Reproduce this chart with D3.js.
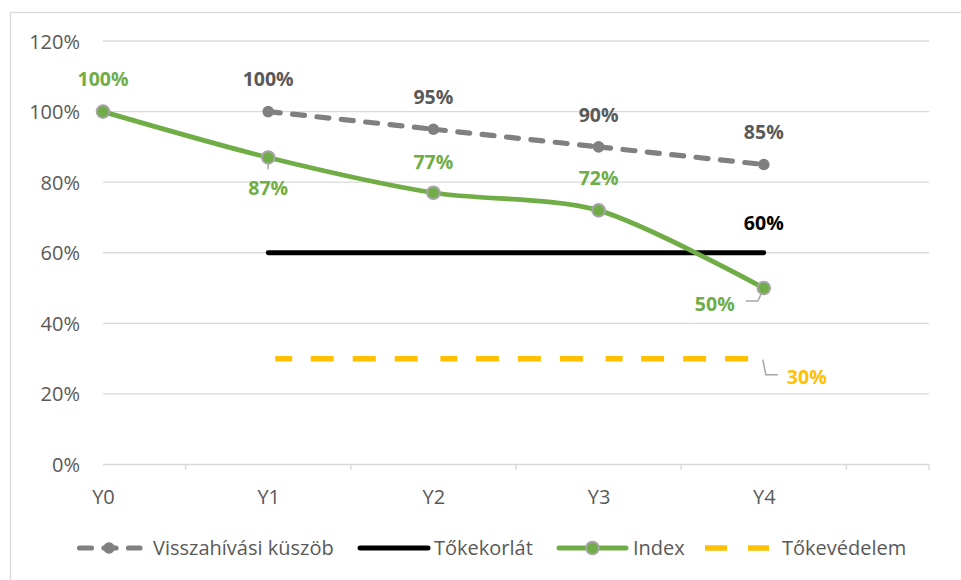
<!DOCTYPE html>
<html>
<head>
<meta charset="utf-8">
<script src="https://cdn.jsdelivr.net/npm/d3@7"></script>
<style>
  html, body { margin: 0; padding: 0; background: #fff; }
  svg { display: block; font-family: "Open Sans", sans-serif; }
</style>
</head>
<body>
<svg id="chart" width="961" height="580"></svg>
<script>
// ---- data ----
const categories = ["Y0", "Y1", "Y2", "Y3", "Y4", ""];
const recallThreshold = [null, 1.00, 0.95, 0.90, 0.85];   // Visszahívási küszöb
const capitalBarrier = [null, 0.60, 0.60, 0.60, 0.60];    // Tőkekorlát
const indexValues = [1.00, 0.87, 0.77, 0.72, 0.50];       // Index
const capitalProtection = [null, 0.30, 0.30, 0.30, 0.30]; // Tőkevédelem
const yTicks = [0, 0.2, 0.4, 0.6, 0.8, 1.0, 1.2];
const seriesNames = ["Visszahívási küszöb", "Tőkekorlát", "Index", "Tőkevédelem"];

// ---- styles ----
const FONT = "'Open Sans', sans-serif";
const C = {
  grid: "#d9d9d9", axisText: "#595959", gray: "#808080", grayLabel: "#595959",
  black: "#000000", green: "#70ad47", gold: "#ffc000", leader: "#a6a6a6", markerStroke: "#a5a5a5"
};

const svg = d3.select("#chart");
svg.append("rect").attr("x", 10.5).attr("y", 12.5).attr("width", 970).attr("height", 600)
  .attr("fill", "none").attr("stroke", "#d9d9d9").attr("stroke-width", 1.3);

const x = d3.scalePoint().domain(categories).range([103, 929]);
const y = d3.scaleLinear().domain([0, 1.2]).range([464.5, 41]);
const fmt = d3.format(".0%");

// gridlines
svg.append("g").selectAll("line").data(yTicks).join("line")
  .attr("x1", 103).attr("x2", 929)
  .attr("y1", d => y(d)).attr("y2", d => y(d))
  .attr("stroke", C.grid).attr("stroke-width", 1.4);

// y axis labels
const yAxis = d3.axisLeft(y).tickValues(yTicks).tickFormat(fmt).tickSize(0).tickPadding(0);
const gy = svg.append("g").attr("transform", "translate(80,0)").call(yAxis);
gy.select(".domain").remove();
gy.selectAll("text").attr("fill", C.axisText).attr("font-size", 20)
  .attr("font-family", FONT).attr("dy", "0.35em");

// x axis (ticks between categories)
const step = x.step();
const xTickPos = d3.range(1, categories.length).map(i => x(categories[i]) - step / 2).concat([x(categories[categories.length - 1])]);
svg.append("g").selectAll("line").data(xTickPos).join("line")
  .attr("x1", d => d).attr("x2", d => d).attr("y1", y(0)).attr("y2", y(0) + 5.5)
  .attr("stroke", C.grid).attr("stroke-width", 1.4);
const xAxis = d3.axisBottom(x).tickSize(0).tickPadding(0);
const gx = svg.append("g").attr("transform", `translate(0,${y(0)})`).call(xAxis);
gx.select(".domain").remove();
gx.selectAll("text").attr("fill", C.axisText).attr("font-size", 20)
  .attr("font-family", FONT).attr("y", 32).attr("dy", "0.35em");

// helpers
const pts = arr => arr.map((v, i) => v == null ? null : [x(categories[i]), y(v)]).filter(p => p);
function segments(arr) {
  const p = pts(arr), s = [];
  for (let i = 0; i < p.length - 1; i++) s.push([p[i], p[i + 1]]);
  return s;
}
const straight = d3.line();

// Tőkevédelem (gold dashed, restarts per segment)
svg.append("g").selectAll("path").data(segments(capitalProtection)).join("path")
  .attr("d", straight).attr("fill", "none").attr("stroke", C.gold).attr("stroke-width", 5.5)
  .attr("stroke-dasharray", "0,7,17,18.5,23,19,23,19,23,19,23,19,23,19");

// Tőkekorlát (black solid)
svg.append("path").attr("d", straight(pts(capitalBarrier))).attr("fill", "none")
  .attr("stroke", C.black).attr("stroke-width", 4.8).attr("stroke-linecap", "round");

// Visszahívási küszöb (gray dashed with markers)
svg.append("g").selectAll("path").data(segments(recallThreshold)).join("path")
  .attr("d", straight).attr("fill", "none").attr("stroke", C.gray).attr("stroke-width", 5.2)
  .attr("stroke-linecap", "round").attr("stroke-dasharray", "12,12.5");
svg.append("g").selectAll("circle").data(pts(recallThreshold)).join("circle")
  .attr("cx", d => d[0]).attr("cy", d => d[1]).attr("r", 5.8).attr("fill", C.gray);

// Index (smooth green with markers)
const smooth = d3.line().curve(d3.curveCardinal.tension(0.15));
svg.append("path").attr("d", smooth(pts(indexValues))).attr("fill", "none")
  .attr("stroke", C.green).attr("stroke-width", 4.8).attr("stroke-linecap", "round");

// leader lines
const pI1 = [x("Y1"), y(indexValues[1])];
const pI4 = [x("Y4"), y(indexValues[4])];
const pP4 = [x("Y4"), y(capitalProtection[4])];
const leaders = [
  [[pI1[0], pI1[1]], [pI1[0], pI1[1] + 12]],
  [[pI4[0], pI4[1]], [pI4[0] - 6, pI4[1] + 13], [pI4[0] - 18, pI4[1] + 13]],
  [[pP4[0] - 1, pP4[1] + 1], [pP4[0] + 2, pP4[1] + 16], [pP4[0] + 14, pP4[1] + 16]]
];
svg.append("g").selectAll("path").data(leaders).join("path")
  .attr("d", straight).attr("fill", "none").attr("stroke", C.leader).attr("stroke-width", 1.5);

svg.append("g").selectAll("circle").data(pts(indexValues)).join("circle")
  .attr("cx", d => d[0]).attr("cy", d => d[1]).attr("r", 6.3)
  .attr("fill", C.green).attr("stroke", C.markerStroke).attr("stroke-width", 2);

// data labels
function label(cat, v, dx, dy, color) {
  svg.append("text").attr("x", x(cat) + dx).attr("y", y(v) + dy).attr("dy", "0.35em")
    .attr("text-anchor", "middle").attr("font-weight", "bold").attr("font-size", 19.5)
    .attr("font-family", FONT).attr("fill", color).text(fmt(v));
}
recallThreshold.forEach((v, i) => { if (v != null) label(categories[i], v, 0, -32, C.grayLabel); });
label("Y4", capitalBarrier[4], 0, -30, C.black);
label("Y0", indexValues[0], 0, -32, C.green);
label("Y1", indexValues[1], 0, 31, C.green);
label("Y2", indexValues[2], 0, -31, C.green);
label("Y3", indexValues[3], 0, -32, C.green);
label("Y4", indexValues[4], -49, 16, C.green);
label("Y4", capitalProtection[4], 43, 19, C.gold);

// legend
const ly = 548;
const lg = svg.append("g");
const legendItems = [
  { name: seriesNames[0], x0: 79.5, x1: 140, text: 153, color: C.gray, width: 5.2, dash: "12,12.5", cap: "round", marker: 109, mfill: C.gray, mstroke: "none", r: 5.8 },
  { name: seriesNames[1], x0: 360, x1: 428, text: 434, color: C.black, width: 5, dash: null, cap: "round" },
  { name: seriesNames[2], x0: 559, x1: 626, text: 633, color: C.green, width: 5, dash: null, cap: "round", marker: 592.5, mfill: C.green, mstroke: C.markerStroke, r: 6.3 },
  { name: seriesNames[3], x0: 705, x1: 769, text: 782, color: C.gold, width: 5.5, dash: "22,21", cap: "butt" }
];
legendItems.forEach(it => {
  lg.append("line").attr("x1", it.x0).attr("x2", it.x1).attr("y1", ly).attr("y2", ly)
    .attr("stroke", it.color).attr("stroke-width", it.width).attr("stroke-linecap", it.cap)
    .attr("stroke-dasharray", it.dash);
  if (it.marker) lg.append("circle").attr("cx", it.marker).attr("cy", ly).attr("r", it.r)
    .attr("fill", it.mfill).attr("stroke", it.mstroke).attr("stroke-width", 2);
  lg.append("text").attr("x", it.text).attr("y", ly).attr("dy", "0.35em")
    .attr("font-size", 20).attr("font-family", FONT).attr("fill", C.axisText).text(it.name);
});
</script>
</body>
</html>
